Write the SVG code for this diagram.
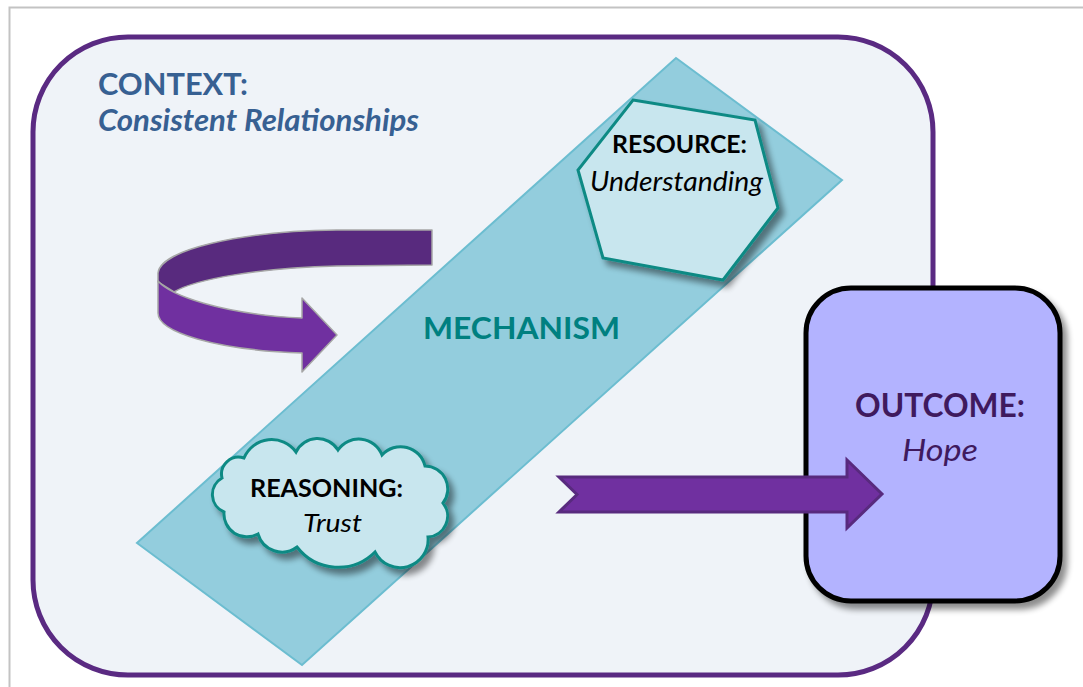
<svg xmlns="http://www.w3.org/2000/svg" width="1083" height="687" viewBox="0 0 1083 687">
  <defs>
    <filter id="shadow" x="-20%" y="-20%" width="150%" height="150%">
      <feGaussianBlur in="SourceAlpha" stdDeviation="3"/>
      <feOffset dx="5" dy="6" result="off"/>
      <feComponentTransfer><feFuncA type="linear" slope="0.45"/></feComponentTransfer>
      <feMerge><feMergeNode/><feMergeNode in="SourceGraphic"/></feMerge>
    </filter>
  </defs>
  <style>
    text { font-family: Lato, "Open Sans", "Liberation Sans", sans-serif; }
    .b { font-weight: bold; }
    .i { font-style: italic; }
    .ctx { fill: #376092; }
    .shape-light { fill: #c8e6ee; stroke: #0e8a84; stroke-width: 3; }
    .out { fill: #3f1a5e; }
  </style>

  <!-- page frame -->
  <rect x="9.5" y="7.5" width="1100" height="700" fill="#ffffff" stroke="#c3c3c3" stroke-width="2"/>

  <!-- context container -->
  <g id="context">
    <rect x="33" y="37" width="900" height="638" rx="95" ry="95" fill="#eff3f8" stroke="#5a2a82" stroke-width="5"/>
    <text class="b ctx" x="98" y="95" font-size="31" textLength="150" lengthAdjust="spacingAndGlyphs">CONTEXT:</text>
    <text class="b i ctx" x="98" y="131" font-size="30" textLength="321" lengthAdjust="spacingAndGlyphs">Consistent Relationships</text>
  </g>

  <!-- mechanism band -->
  <g id="mechanism">
    <polygon points="676,58 842,180 302,665 137,543" fill="#93cddd" stroke="#6cbdd0" stroke-width="2"/>
    <text class="b" x="423" y="339" font-size="31" fill="#008080" textLength="197" lengthAdjust="spacingAndGlyphs">MECHANISM</text>
  </g>

  <g id="connectors">
    <!-- circular feedback arrow -->
    <g stroke="#a6a6a6" stroke-width="1.5" stroke-linejoin="round">
      <path d="M432,230 L432,265 L337,266 C260,268 195,279 174,292 L158,282 L158,273 C160,250 240,231 337,230 Z" fill="#582a7e"/>
      <path d="M158,281 C170,295 220,314 302,318 L302,298 L337,335 L302,372 L302,353 C215,350 158,332 158,313 Z" fill="#7030a0"/>
    </g>
  </g>

  <!-- resource node -->
  <g id="resource">
    <polygon class="shape-light" points="633,100 755,120 778,208 723,280 603,258 578,170" filter="url(#shadow)"/>
    <text class="b" x="612" y="153" font-size="25" fill="#000" textLength="135" lengthAdjust="spacingAndGlyphs">RESOURCE:</text>
    <text class="i" x="590" y="191" font-size="27" fill="#000" textLength="173" lengthAdjust="spacingAndGlyphs">Understanding</text>
  </g>

  <!-- reasoning node -->
  <g id="reasoning">
    <path class="shape-light" filter="url(#shadow)" d="M222,478 A17,17 0 0 1 244,458 A30,30 0 0 1 296,452 A24,24 0 0 1 338,450 A25,25 0 0 1 382,455 A25,25 0 0 1 425,466 A23,23 0 0 1 443,503 A21,21 0 0 1 428,537 A28,28 0 0 1 375,552 A52,52 0 0 1 297,547 A25,25 0 0 1 258,534 A23,23 0 0 1 224,512 A19,19 0 0 1 222,478 Z"/>
    <text class="b" x="250" y="497" font-size="24" fill="#000" textLength="153" lengthAdjust="spacingAndGlyphs">REASONING:</text>
    <text class="i" x="303" y="532" font-size="26" fill="#000" textLength="59" lengthAdjust="spacingAndGlyphs">Trust</text>
  </g>

  <!-- outcome node -->
  <g id="outcome">
    <rect x="806" y="288" width="254" height="313" rx="45" ry="45" fill="#b3b3ff" stroke="#000" stroke-width="5" filter="url(#shadow)"/>
    <text class="b out" x="855" y="417" font-size="32" textLength="170" lengthAdjust="spacingAndGlyphs">OUTCOME:</text>
    <text class="i out" x="902" y="461" font-size="31" textLength="76" lengthAdjust="spacingAndGlyphs">Hope</text>
  </g>

  <g id="connectors-front">
    <!-- arrow into outcome -->
    <polygon points="559,477 847,477 847,460 882,494 847,528 847,512 559,512 577,494.5" fill="#7030a0" stroke="#582a7e" stroke-width="3" stroke-linejoin="miter"/>
  </g>
</svg>
